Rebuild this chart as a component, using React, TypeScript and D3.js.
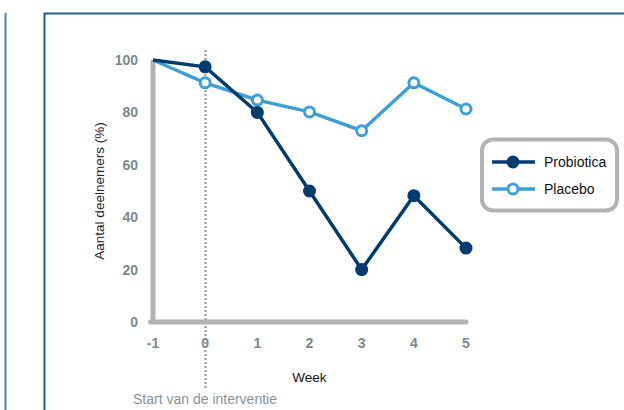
import React from "react";
import * as d3 from "d3";

const weeks = [-1, 0, 1, 2, 3, 4, 5];
const probiotica = [100, 97.4, 80, 50, 20, 48.2, 28.2];
const placebo = [100, 91.3, 84.7, 80.2, 73, 91.3, 81.3];
const yTicks = [0, 20, 40, 60, 80, 100];
const seriesNames = ["Probiotica", "Placebo"];

const W = 624;
const H = 410;
const NAVY = "#003c70";
const LIGHT = "#3d9fd7";
const AXIS = "#b3b3b3";
const TICK = "#7b8a8c";
const FONT = "'Liberation Sans', Arial, Helvetica, sans-serif";

export default function App() {
  const x = d3.scaleLinear().domain([-1, 5]).range([153, 466]);
  const y = d3.scaleLinear().domain([0, 100]).range([322, 60]);
  const line = d3
    .line<number>()
    .x((_, i) => x(weeks[i]))
    .y((d) => y(d));
  const x0 = Math.round(x(0)) + 0.5;

  return (
    <svg
      width={W}
      height={H}
      style={{ position: "absolute", left: 0, top: 0, background: "#fff" }}
      fontFamily={FONT}
    >
      {/* frames */}
      <line x1={5.5} y1={13} x2={5.5} y2={H} stroke="#4d81ad" strokeWidth={2} />
      <path d={`M44.5,${H} V13.5 H${W}`} fill="none" stroke="#2a5a8c" strokeWidth={2} />

      {/* dotted intervention line */}
      <line
        x1={x0}
        x2={x0}
        y1={50}
        y2={388}
        stroke="#a8a8a8"
        strokeWidth={2.5}
        strokeDasharray="2,2"
      />

      {/* axes */}
      <line x1={x(-1)} y1={y(100)} x2={x(-1)} y2={y(0)} stroke={AXIS} strokeWidth={5} />
      <line
        x1={x(-1) - 2.5}
        y1={y(0)}
        x2={x(5)}
        y2={y(0)}
        stroke={AXIS}
        strokeWidth={5}
        strokeLinecap="round"
      />

      {/* y ticks */}
      {yTicks.map((t) => (
        <text
          key={t}
          x={138}
          y={y(t)}
          dy="0.36em"
          textAnchor="end"
          fontSize={14}
          fontWeight="bold"
          fill={TICK}
        >
          {t}
        </text>
      ))}
      {/* x ticks */}
      {weeks.map((w) => (
        <text
          key={w}
          x={x(w)}
          y={348}
          textAnchor="middle"
          fontSize={14}
          fontWeight="bold"
          fill={TICK}
        >
          {w}
        </text>
      ))}

      <text x={x(2)} y={382} textAnchor="middle" fontSize={13.5} fill="#111">
        Week
      </text>
      <text x={133} y={404} fontSize={14} fill="#8a9496">
        Start van de interventie
      </text>
      <text
        transform={`translate(104,${(y(0) + y(100)) / 2}) rotate(-90)`}
        textAnchor="middle"
        fontSize={13.5}
        fill="#222"
      >
        Aantal deelnemers (%)
      </text>

      {/* series */}
      <path d={line(placebo) || ""} fill="none" stroke={LIGHT} strokeWidth={3.5} />
      <path d={line(probiotica) || ""} fill="none" stroke={NAVY} strokeWidth={3.5} />
      {placebo.map((v, i) =>
        i === 0 ? null : (
          <circle key={"pl" + i} cx={x(weeks[i])} cy={y(v)} r={5} fill="#fff" stroke={LIGHT} strokeWidth={3} />
        )
      )}
      {probiotica.map((v, i) =>
        i === 0 ? null : (
          <circle key={"pr" + i} cx={x(weeks[i])} cy={y(v)} r={6.5} fill={NAVY} />
        )
      )}

      {/* legend */}
      <rect x={482} y={139.5} width={135} height={71} rx={11} fill="#fff" stroke={AXIS} strokeWidth={4} />
      {seriesNames.map((n, i) => {
        const cy = 162 + i * 27;
        const c = i === 0 ? NAVY : LIGHT;
        return (
          <g key={n}>
            <line x1={492} x2={535} y1={cy} y2={cy} stroke={c} strokeWidth={3.5} />
            {i === 0 ? (
              <circle cx={513} cy={cy} r={6.5} fill={NAVY} />
            ) : (
              <circle cx={513} cy={cy} r={5} fill="#fff" stroke={LIGHT} strokeWidth={3} />
            )}
            <text x={544} y={cy} dy="0.36em" fontSize={14} fill="#111">
              {n}
            </text>
          </g>
        );
      })}
    </svg>
  );
}
